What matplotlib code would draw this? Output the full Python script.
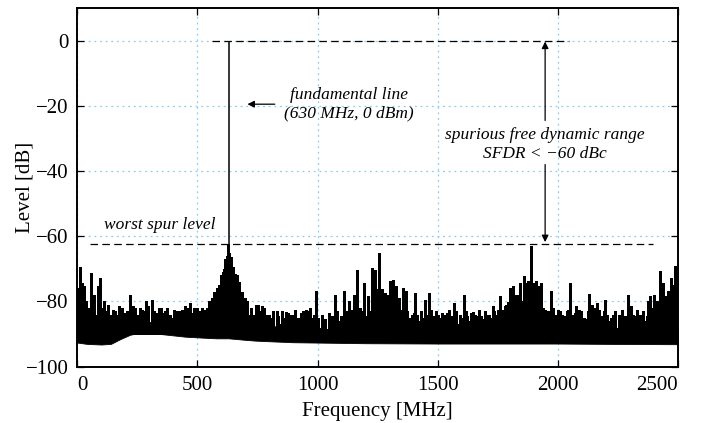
"""
Widmo sygnału z przetwornika: linia podstawowa 630 MHz, poziom najgorszego
prążka pasożytniczego i zakres SFDR.
"""

import numpy as np
import matplotlib
matplotlib.use("Agg")
import matplotlib.pyplot as plt
from matplotlib.ticker import MultipleLocator

# ==== KONFIGURACJA ====
FIGSIZE = (7.07, 4.23)
DPI = 100
FONT_FAMILY = ["Liberation Serif", "DejaVu Serif"]
TICK_FONTSIZE = 15
ANNOT_FONTSIZE = 12.5
GRID_COLOR = "#8ccff2"

# ==== DANE ====
# linia podstawowa
FUND_F = 630.0
FUND_DB = 0.0
WORST_SPUR_DB = -62.3

# pasmo szumu (dolna i górna krawędź zaczernionego obszaru)
band_f = [0, 40, 100, 140, 180, 220, 260, 300, 350, 400, 450, 500, 550, 580,
          600, 615, 630, 645, 660, 690, 740, 800, 900, 1000, 1200, 1500, 1800,
          2000, 2200, 2500]
band_lo = [-92.6, -93.0, -93.2, -93.0, -91.5, -90.2, -89.6, -89.7, -90.0, -90.4,
           -90.8, -91.0, -91.2, -91.3, -91.3, -91.3, -91.3, -91.4, -91.5, -91.7,
           -92.0, -92.2, -92.5, -92.6, -92.8, -92.9, -92.9, -92.9, -93.0, -93.1]
band_hi = [-87.5, -88.0, -88.0, -88.0, -87.5, -86.5, -86.0, -86.3, -86.5, -86.5,
           -86.5, -86.0, -84.5, -83.0, -79.5, -75.5, -71.5, -75.5, -79.5, -83.5,
           -86.5, -87.5, -88.0, -88.5, -88.5, -88.5, -88.5, -88.5, -88.5, -88.5]

# wyraźne prążki
spur_f = [10, 21, 29, 57, 71, 85, 96, 112, 129, 157, 172, 199, 219, 240, 254,
          268, 286, 310, 331, 349, 365, 393, 414, 435, 448, 469, 487, 511, 532,
          754, 768, 789, 803, 830, 844, 869, 886, 907, 921, 941, 953, 969, 993,
          1011, 1073, 1090, 1108, 1132, 1150, 1166, 1177, 1195, 1209, 1226,
          1240, 1247, 1257, 1270, 1282, 1293, 1302, 1312, 1326, 1340, 1354,
          1368, 1379, 1393, 1406, 1423, 1445, 1462, 1479, 1501, 1524, 1538,
          1568, 1587, 1608, 1629, 1647, 1663, 1687, 1705, 1728, 1742, 1760,
          1770, 1781, 1792, 1802, 1812, 1823, 1834, 1844, 1858, 1868, 1876,
          1890, 1899, 1910, 1920, 1930, 1945, 1955, 1972, 1987, 2001, 2017,
          2031, 2043, 2052, 2066, 2076, 2090, 2103, 2121, 2131, 2140, 2153,
          2163, 2177, 2198, 2215, 2229, 2246, 2260, 2274, 2292, 2306, 2320,
          2337, 2348, 2362, 2376, 2385, 2399, 2413, 2424, 2438, 2448, 2459,
          2469, 2483, 2489, 2497]
spur_db = [-69.5, -74.3, -75.3, -71.2, -77.9, -75.3, -72.8, -79.9, -81.0, -83.0,
           -81.5, -83.5, -77.9, -82.0, -84.0, -82.5, -80.0, -79.4, -83.5, -82.0,
           -83.0, -85.0, -83.0, -82.5, -81.5, -80.4, -82.0, -83.0, -82.5,
           -81.0, -81.5, -84.0, -85.0, -83.0, -87.0, -83.3, -84.0, -82.5, -85.0,
           -83.0, -82.5, -82.0, -76.9, -88.0, -77.9, -86.0, -76.9, -80.0, -77.9,
           -70.2, -82.0, -74.3, -78.4, -69.7, -70.2, -76.3, -65.1, -76.3, -77.4,
           -77.9, -73.8, -73.3, -75.3, -78.9, -75.8, -76.9, -86.0, -84.0, -77.4,
           -86.0, -79.4, -77.4, -85.0, -84.0, -84.0, -83.5, -80.6, -87.0, -77.9,
           -86.0, -83.2, -84.5, -85.5, -84.0, -81.5, -84.0, -78.4, -82.5, -81.5,
           -80.1, -75.8, -75.3, -77.9, -77.9, -74.3, -72.3, -74.3, -73.8, -63.1,
           -74.3, -73.8, -75.3, -74.3, -82.5, -83.0, -76.9, -85.0, -82.5, -84.0,
           -85.5, -82.5, -74.3, -86.5, -81.5, -82.5, -88.0, -85.5, -77.7, -81.0,
           -82.0, -80.4, -85.0, -79.4, -86.0, -84.0, -88.0, -86.0, -84.5, -78.1,
           -81.5, -84.5, -85.0, -84.0, -87.6, -80.0, -78.4, -77.9, -80.0, -70.7,
           -74.3, -78.4, -76.9, -72.8, -74.8, -69.2, -74.3]

# gęste prążki w otoczeniu linii podstawowej
skirt_f = [540, 545, 550, 555, 560, 565, 570, 575, 580, 585, 590, 595, 600, 604,
           608, 612, 616, 620, 623, 626, 628, 633, 636, 640, 644, 648, 652, 656,
           660, 665, 670, 675, 680, 685, 690, 696, 702, 708, 715, 722, 730, 738]
skirt_db = [-82, -84, -80, -83, -79, -82, -77, -80, -76, -79, -75, -77, -72, -74,
            -71, -70, -67, -69, -66, -67, -62.3, -65, -67, -66.5, -70, -69.5,
            -72, -71.5, -74, -72, -76, -74, -78, -77, -80, -79, -82, -80, -84,
            -82, -84, -85]

# drobne prążki tuż nad pasmem szumu
minor_f = [5, 16, 36, 45, 64, 78, 104, 120, 137, 148, 165, 185, 207, 230, 262,
           277, 296, 320, 340, 357, 375, 384, 403, 425, 457, 478, 497, 521,
           745, 760, 778, 796, 815, 837, 852, 861, 877, 896, 914, 930, 947, 960,
           978, 985, 1002, 1020, 1030, 1048, 1058, 1066, 1082, 1098, 1117, 1124,
           1141, 1158, 1185, 1202, 1218, 1233, 1263,
           1288, 1320, 1333, 1347, 1361, 1374, 1386, 1400, 1414, 1430, 1438,
           1452, 1470, 1486, 1494, 1510, 1517, 1531, 1545, 1559, 1576, 1594,
           1601, 1616, 1622, 1637, 1655, 1670, 1679, 1695, 1713, 1720, 1735, 1750,
           1786, 1817, 1851, 1883, 1937, 1962, 1979, 1994, 2008, 2024, 2037,
           2059, 2070, 2083, 2097, 2110, 2126, 2147, 2170, 2185, 2191, 2206,
           2222, 2237, 2253, 2267, 2283, 2299, 2313, 2328, 2343, 2355, 2369,
           2392, 2406, 2431, 2453, 2476]
minor_db = [-76, -78, -80, -82, -81, -84, -82, -83, -84, -82.5, -84, -82, -83,
            -81.5, -82, -83, -81.5, -83, -82, -83.5, -82, -84, -82.5, -83, -82,
            -83.5, -82, -82,
            -81, -83, -82, -84, -83, -84.5, -83, -85, -83.5, -84, -85, -83.5,
            -84.5, -83, -85, -84, -85, -84, -85.5, -83.5, -84.5, -85, -83,
            -84.5, -83, -85, -82.5, -84, -83, -84.5, -83, -84, -83,
            -82, -83, -84, -82.5, -84, -83, -85, -83.5, -84, -83, -85, -84,
            -82.5, -84.5, -83, -85, -83.5, -84, -82.5, -84.5, -83, -84, -85,
            -83, -84.5, -83.5, -84, -82.5, -84.5, -83, -84, -85, -83, -82.5,
            -81, -79, -80, -78, -82, -83, -82, -84, -83, -84.5, -83, -84, -83.5,
            -84.5, -83, -85, -83, -84, -82.5, -84.5, -83, -84, -85, -83, -84,
            -82.5, -84.5, -83, -84, -82.5, -84, -83, -84.5, -82, -81, -80, -79,
            -78]

# najdrobniejsze prążki (postrzępiona krawędź pasma szumu)
fuzz_f = [25, 52, 90, 133, 152, 178, 193, 213, 246, 270,
          290, 303, 326, 345, 370, 398, 409, 420, 441, 463,
          483, 505, 516, 527, 750, 772, 784, 808, 822, 848,
          857, 873, 891, 902, 926, 936, 964, 974, 997, 1015,
          1026, 1044, 1054, 1078, 1086, 1103, 1112, 1128, 1137, 1146,
          1171, 1190, 1214, 1230, 1252, 1276, 1298, 1307, 1316, 1336,
          1350, 1364, 1382, 1397, 1410, 1426, 1449, 1458, 1466, 1483,
          1498, 1506, 1528, 1541, 1555, 1563, 1582, 1598, 1612, 1633,
          1642, 1651, 1667, 1683, 1691, 1700, 1709, 1724, 1746, 1755,
          1765, 1776, 1797, 1807, 1828, 1839, 1848, 1863, 1873, 1895,
          1905, 1915, 1925, 1941, 1950, 1967, 1983, 1998, 2013, 2020,
          2046, 2063, 2080, 2093, 2106, 2116, 2136, 2158, 2167, 2181,
          2195, 2211, 2226, 2242, 2257, 2271, 2288, 2302, 2317, 2333,
          2352, 2366, 2380, 2394, 2418, 2443, 2464, 2486, 2494]
fuzz_db = [-81, -83, -84, -86, -87, -86, -85.5, -87, -86, -87,
           -86.5, -87.5, -86, -87, -86.5, -87.5, -86, -87, -86.5, -87,
           -86, -85, -86, -84, -87, -86, -88, -87, -88, -87.5,
           -88.5, -87, -88, -88.5, -87, -88, -87.5, -88.5, -87, -88,
           -87.5, -88.5, -87, -88, -86.5, -88, -87, -86, -87.5, -86.5,
           -86, -85, -86, -85.5, -86, -86.5, -85.5, -86, -86.5, -87,
           -86, -87, -86.5, -87.5, -87, -88, -87, -86.5, -88, -87.5,
           -88, -87, -88.5, -87.5, -88, -87, -88.5, -87.5, -88, -87,
           -88, -87.5, -87, -88, -86.5, -87, -86, -86.5, -85, -84.5,
           -84, -85, -83, -84, -82.5, -83, -82, -83, -82, -83,
           -84, -83.5, -84.5, -86, -85, -86.5, -87, -86, -87, -86.5,
           -87, -87.5, -86.5, -88, -87, -87.5, -86.5, -87, -88, -87,
           -86.5, -87.5, -87, -88, -87, -87.5, -86, -87, -87.5, -86.5,
           -87, -86, -85, -84.5, -84, -83, -82, -81, -82]

# osie
X_LIM = (0, 2500)
Y_LIM = (-100, 10)
X_TICKS = [0, 500, 1000, 1500, 2000, 2500]
Y_STEP = 20

# ==== USTAWIENIA MATPLOTLIB ====
plt.rcParams["font.family"] = FONT_FAMILY

# ==== RYSOWANIE ====
fig = plt.figure(figsize=FIGSIZE, dpi=DPI)
ax = fig.add_axes([0.1093, 0.1331, 0.8497, 0.8480])

SPIKE_BOTTOM = -90.0

ax.fill_between(band_f, band_lo, band_hi, color="black", linewidth=0.6, zorder=3)
for f, db, lw in [(fuzz_f, fuzz_db, 0.75), (minor_f, minor_db, 0.75),
                  (skirt_f, skirt_db, 1.0), (spur_f, spur_db, 1.0)]:
    ax.vlines(f, SPIKE_BOTTOM, db, color="black", linewidth=lw,
              antialiased=False, zorder=3)
ax.vlines([FUND_F], SPIKE_BOTTOM, [FUND_DB], color="black", linewidth=1.1, zorder=3)

# --- linie przerywane: poziom linii podstawowej i najgorszego prążka ---
ax.plot([560, 2045], [FUND_DB, FUND_DB], color="black", linewidth=0.9,
        dashes=(6, 3.5), zorder=4)
ax.plot([53, 2395], [WORST_SPUR_DB, WORST_SPUR_DB], color="black",
        linewidth=0.9, dashes=(6, 3.5), zorder=4)

# --- opisy ---
ax.text(1132, -16.6, "fundamental line", fontsize=ANNOT_FONTSIZE,
        style="italic", ha="center", va="center")
ax.text(1132, -22.2, "(630 MHz, 0 dBm)", fontsize=ANNOT_FONTSIZE,
        style="italic", ha="center", va="center")
ax.annotate("", xy=(708, -19.5), xytext=(822, -19.5),
            arrowprops=dict(arrowstyle="-|>", color="black", lw=0.9,
                            mutation_scale=10, shrinkA=0, shrinkB=0))

ax.text(1947, -29.0, "spurious free dynamic range", fontsize=ANNOT_FONTSIZE,
        style="italic", ha="center", va="center")
ax.text(1947, -34.7, "SFDR < \u221260 dBc", fontsize=ANNOT_FONTSIZE,
        style="italic", ha="center", va="center")
ax.annotate("", xy=(1947, FUND_DB - 0.3), xytext=(1947, -24.5),
            arrowprops=dict(arrowstyle="-|>", color="black", lw=0.9,
                            mutation_scale=10, shrinkA=0, shrinkB=0))
ax.annotate("", xy=(1947, WORST_SPUR_DB + 0.5), xytext=(1947, -38.0),
            arrowprops=dict(arrowstyle="-|>", color="black", lw=0.9,
                            mutation_scale=10, shrinkA=0, shrinkB=0))

ax.text(344, -56.5, "worst spur level", fontsize=ANNOT_FONTSIZE,
        style="italic", ha="center", va="center")

# Opisy osi
ax.set_xlabel("Frequency [MHz]", fontsize=TICK_FONTSIZE, labelpad=5)
ax.set_ylabel("Level [dB]", fontsize=TICK_FONTSIZE)
ax.yaxis.set_label_coords(-0.072, 0.5)

# Zakresy osi
ax.set_xlim(*X_LIM)
ax.set_ylim(*Y_LIM)
ax.set_xticks(X_TICKS)
ax.yaxis.set_major_locator(MultipleLocator(Y_STEP))
ax.tick_params(axis="both", direction="in", top=True, right=True,
               length=5, width=0.9, labelsize=TICK_FONTSIZE)
ax.tick_params(axis="x", pad=7)
ax.tick_params(axis="y", pad=6)
# skrajne etykiety osi X wsunięte do środka, jak w oryginale
xlabels = ax.get_xticklabels()
xlabels[0].set_horizontalalignment("left")
xlabels[-1].set_horizontalalignment("right")
for sp in ax.spines.values():
    sp.set_linewidth(1.4)
    sp.set_zorder(6)

# Siatka
ax.grid(True, linestyle=(0, (1.5, 3)), linewidth=0.9, color=GRID_COLOR, zorder=0)
ax.set_axisbelow(True)

fig.savefig("out.png", dpi=DPI)
